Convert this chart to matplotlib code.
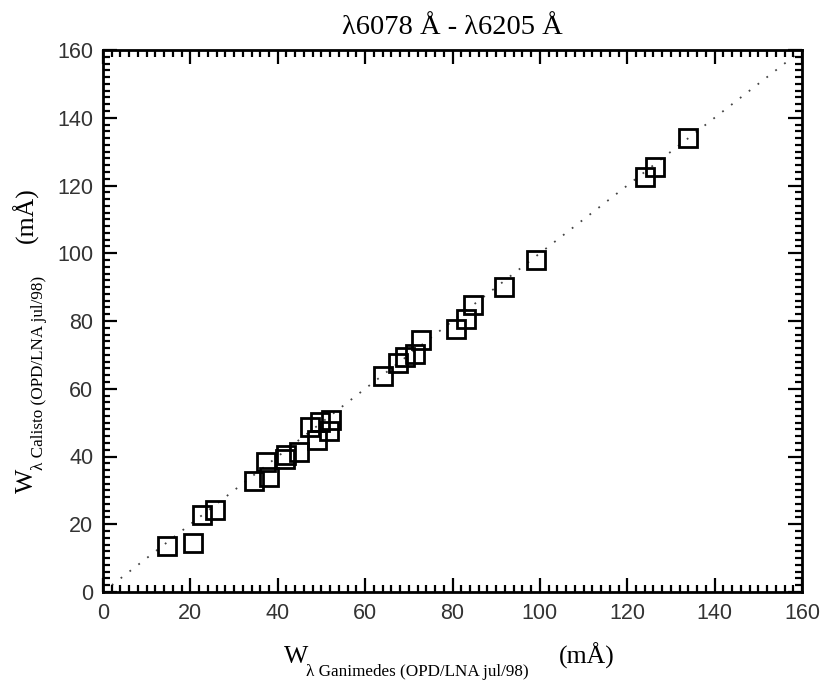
import matplotlib
matplotlib.use("Agg")
import matplotlib.pyplot as plt
from matplotlib.ticker import MultipleLocator

# Equivalent widths (mÅ): Ganimedes vs Calisto
w_ganimedes = [14.6, 20.7, 22.7, 25.6, 34.6, 38.1, 37.3, 41.6, 42.0, 44.9,
               47.4, 49.7, 52.1, 48.9, 51.8, 64.1, 67.6, 69.1, 71.4, 72.7,
               80.8, 83.2, 84.6, 91.8, 99.1, 124.0, 126.3, 133.9]
w_calisto = [13.7, 14.4, 22.7, 24.2, 32.8, 34.0, 38.4, 39.4, 40.4, 41.4,
             48.8, 50.2, 50.7, 45.0, 47.6, 63.7, 67.6, 69.4, 70.2, 74.5,
             77.5, 80.7, 84.6, 89.9, 97.9, 122.5, 125.5, 134.1]
identity = [0, 160]
major_ticks = [0, 20, 40, 60, 80, 100, 120, 140, 160]

W, H = 824, 682
fig = plt.figure(figsize=(W / 100, H / 100), dpi=100)
fig.patch.set_facecolor("white")

ax = fig.add_axes([103 / W, 1 - 592 / H, (802 - 103) / W, (592 - 50) / H])

ax.plot(identity, identity, color="#444444", lw=1.3,
        linestyle=(0, (1, 5.2)), zorder=1)
ax.plot(w_ganimedes, w_calisto, linestyle="none", marker="s", ms=13.5,
        mfc="none", mec="black", mew=2.0, zorder=2)

ax.set_xlim(0, 160)
ax.set_ylim(0, 160)
ax.set_xticks(major_ticks)
ax.set_yticks(major_ticks)
ax.xaxis.set_minor_locator(MultipleLocator(2))
ax.yaxis.set_minor_locator(MultipleLocator(2))
ax.tick_params(which="both", direction="in", top=True, right=True,
               width=1.6, color="black")
ax.tick_params(which="major", length=10)
ax.tick_params(which="minor", length=5)
ax.tick_params(axis="x", which="major", pad=8)
ax.tick_params(axis="y", which="major", pad=7)
for lab in ax.get_xticklabels() + ax.get_yticklabels():
    lab.set_fontfamily("Liberation Sans")
    lab.set_fontsize(15.5)
    lab.set_color("#333333")
for sp in ax.spines.values():
    sp.set_linewidth(2.0)

serif = "Liberation Serif"


def fxy(px, py):
    return px / W, 1 - py / H


# Title
fig.text(*fxy(452, 34), "λ6078 Å - λ6205 Å", family=serif, fontsize=20.5,
         ha="center", va="baseline")

# x-axis label pieces
fig.text(*fxy(284, 663), "W", family=serif, fontsize=18.5,
         ha="left", va="baseline")
fig.text(*fxy(306, 676), "λ Ganimedes (OPD/LNA jul/98)", family=serif,
         fontsize=12.3, ha="left", va="baseline")
fig.text(*fxy(559, 664), "(mÅ)", family=serif, fontsize=18.5,
         ha="left", va="baseline")

# y-axis label pieces (rotated)
fig.text(*fxy(33, 493), "W", family=serif, fontsize=18.5, rotation=90,
         rotation_mode="anchor", ha="left", va="baseline")
fig.text(*fxy(43, 470), "λ Calisto (OPD/LNA jul/98)", family=serif,
         fontsize=12.3, rotation=90, rotation_mode="anchor",
         ha="left", va="baseline")
fig.text(*fxy(33, 243), "(mÅ)", family=serif, fontsize=18.5, rotation=90,
         rotation_mode="anchor", ha="left", va="baseline")

fig.savefig("out.png", dpi=100)
